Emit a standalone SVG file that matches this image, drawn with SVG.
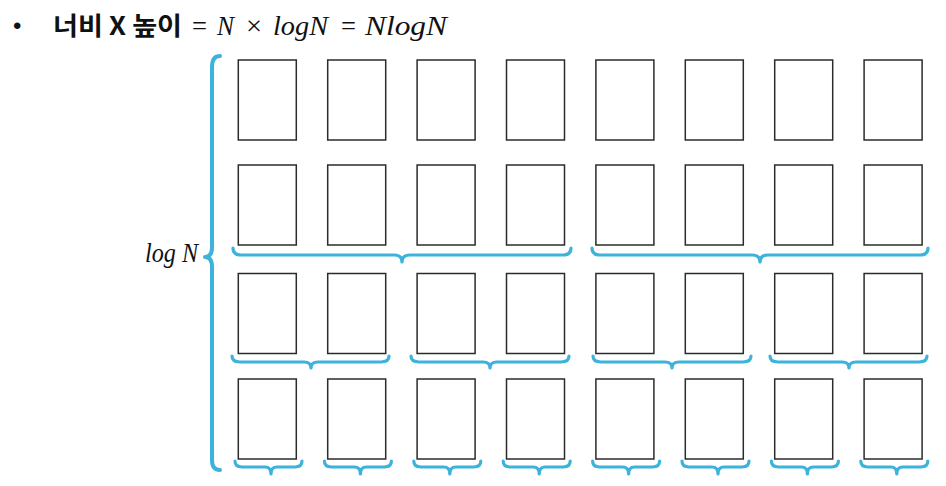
<svg xmlns="http://www.w3.org/2000/svg" width="946" height="486" viewBox="0 0 946 486">
<style>
.box{fill:#fff;stroke:#2b2b2b;stroke-width:1.5}
.br{fill:none;stroke:#3db3dc;stroke-width:3.2;stroke-linecap:round;stroke-linejoin:round}
.big{stroke-width:4}
.math{font-family:"Liberation Serif",serif;font-size:27px;fill:#111}
.it{font-style:italic}
.kr{font-family:"Noto Sans CJK KR","Noto Sans",sans-serif;font-weight:bold;font-size:25px;fill:#111}
</style>
<rect width="946" height="486" fill="#fff"/>
<g id="title">
<text x="13" y="34" font-family="Liberation Sans,sans-serif" font-size="24" fill="#111">•</text>
<text class="kr" x="53" y="35" textLength="129" lengthAdjust="spacingAndGlyphs">너비 X 높이</text>
<text class="math" x="192" y="35" textLength="15" lengthAdjust="spacingAndGlyphs">=</text>
<text class="math it" x="217" y="35" textLength="17" lengthAdjust="spacingAndGlyphs">N</text>
<text class="math" x="246" y="35" textLength="16" lengthAdjust="spacingAndGlyphs">×</text>
<text class="math it" x="273" y="35" textLength="55" lengthAdjust="spacingAndGlyphs">logN</text>
<text class="math" x="341" y="35" textLength="15" lengthAdjust="spacingAndGlyphs">=</text>
<text class="math it" x="365" y="35" textLength="82" lengthAdjust="spacingAndGlyphs">NlogN</text>
</g>
<g id="label">
<text class="math it" x="145" y="262" font-size="25" textLength="53" lengthAdjust="spacingAndGlyphs">log N</text>
</g>
<g id="boxes">
<g id="row1">
<rect class="box" x="238.3" y="60" width="58" height="80"/>
<rect class="box" x="327.7" y="60" width="58" height="80"/>
<rect class="box" x="417.1" y="60" width="58" height="80"/>
<rect class="box" x="506.5" y="60" width="58" height="80"/>
<rect class="box" x="595.9" y="60" width="58" height="80"/>
<rect class="box" x="685.3" y="60" width="58" height="80"/>
<rect class="box" x="774.7" y="60" width="58" height="80"/>
<rect class="box" x="864.1" y="60" width="58" height="80"/>
</g>
<g id="row2">
<rect class="box" x="238.3" y="165" width="58" height="80"/>
<rect class="box" x="327.7" y="165" width="58" height="80"/>
<rect class="box" x="417.1" y="165" width="58" height="80"/>
<rect class="box" x="506.5" y="165" width="58" height="80"/>
<rect class="box" x="595.9" y="165" width="58" height="80"/>
<rect class="box" x="685.3" y="165" width="58" height="80"/>
<rect class="box" x="774.7" y="165" width="58" height="80"/>
<rect class="box" x="864.1" y="165" width="58" height="80"/>
</g>
<g id="row3">
<rect class="box" x="238.3" y="273.5" width="58" height="80"/>
<rect class="box" x="327.7" y="273.5" width="58" height="80"/>
<rect class="box" x="417.1" y="273.5" width="58" height="80"/>
<rect class="box" x="506.5" y="273.5" width="58" height="80"/>
<rect class="box" x="595.9" y="273.5" width="58" height="80"/>
<rect class="box" x="685.3" y="273.5" width="58" height="80"/>
<rect class="box" x="774.7" y="273.5" width="58" height="80"/>
<rect class="box" x="864.1" y="273.5" width="58" height="80"/>
</g>
<g id="row4">
<rect class="box" x="238.3" y="379" width="58" height="80"/>
<rect class="box" x="327.7" y="379" width="58" height="80"/>
<rect class="box" x="417.1" y="379" width="58" height="80"/>
<rect class="box" x="506.5" y="379" width="58" height="80"/>
<rect class="box" x="595.9" y="379" width="58" height="80"/>
<rect class="box" x="685.3" y="379" width="58" height="80"/>
<rect class="box" x="774.7" y="379" width="58" height="80"/>
<rect class="box" x="864.1" y="379" width="58" height="80"/>
</g>
</g>
<g id="braces">
<path class="br big" d="M220,56 Q212,56 212,67 L212,247 Q212,257 205,257 Q212,257 212,267 L212,460 Q212,470 220,470"/>
<path class="br" d="M233,248 Q233,255 241,255 L394,255 Q402,255 402,262 Q402,255 410,255 L563,255 Q571,255 571,248"/>
<path class="br" d="M592,248 Q592,255 600,255 L752,255 Q760,255 760,262 Q760,255 768,255 L920,255 Q928,255 928,248"/>
<path class="br" d="M232,356 Q232,362 240,362 L304,362 Q311,362 311,368 Q311,362 318,362 L381,362 Q389,362 389,356"/>
<path class="br" d="M411,356 Q411,362 419,362 L483,362 Q490,362 490,368 Q490,362 497,362 L561,362 Q569,362 569,356"/>
<path class="br" d="M593,356 Q593,362 601,362 L665,362 Q672,362 672,368 Q672,362 679,362 L743,362 Q751,362 751,356"/>
<path class="br" d="M770,356 Q770,362 778,362 L842,362 Q849,362 849,368 Q849,362 856,362 L919,362 Q927,362 927,356"/>
<path class="br" d="M235,461 Q235,467 242,467 L265,467 Q271,467 271,474 Q271,467 277,467 L295,467 Q302,467 302,461"/>
<path class="br" d="M324.4,461 Q324.4,467 331.4,467 L354.4,467 Q360.4,467 360.4,474 Q360.4,467 366.4,467 L384.4,467 Q391.4,467 391.4,461"/>
<path class="br" d="M413.8,461 Q413.8,467 420.8,467 L443.8,467 Q449.8,467 449.8,474 Q449.8,467 455.8,467 L473.8,467 Q480.8,467 480.8,461"/>
<path class="br" d="M503.2,461 Q503.2,467 510.2,467 L533.2,467 Q539.2,467 539.2,474 Q539.2,467 545.2,467 L563.2,467 Q570.2,467 570.2,461"/>
<path class="br" d="M592.6,461 Q592.6,467 599.6,467 L622.6,467 Q628.6,467 628.6,474 Q628.6,467 634.6,467 L652.6,467 Q659.6,467 659.6,461"/>
<path class="br" d="M682,461 Q682,467 689,467 L712,467 Q718,467 718,474 Q718,467 724,467 L742,467 Q749,467 749,461"/>
<path class="br" d="M771.4,461 Q771.4,467 778.4,467 L801.4,467 Q807.4,467 807.4,474 Q807.4,467 813.4,467 L831.4,467 Q838.4,467 838.4,461"/>
<path class="br" d="M860.8,461 Q860.8,467 867.8,467 L890.8,467 Q896.8,467 896.8,474 Q896.8,467 902.8,467 L920.8,467 Q927.8,467 927.8,461"/>
</g>
</svg>
